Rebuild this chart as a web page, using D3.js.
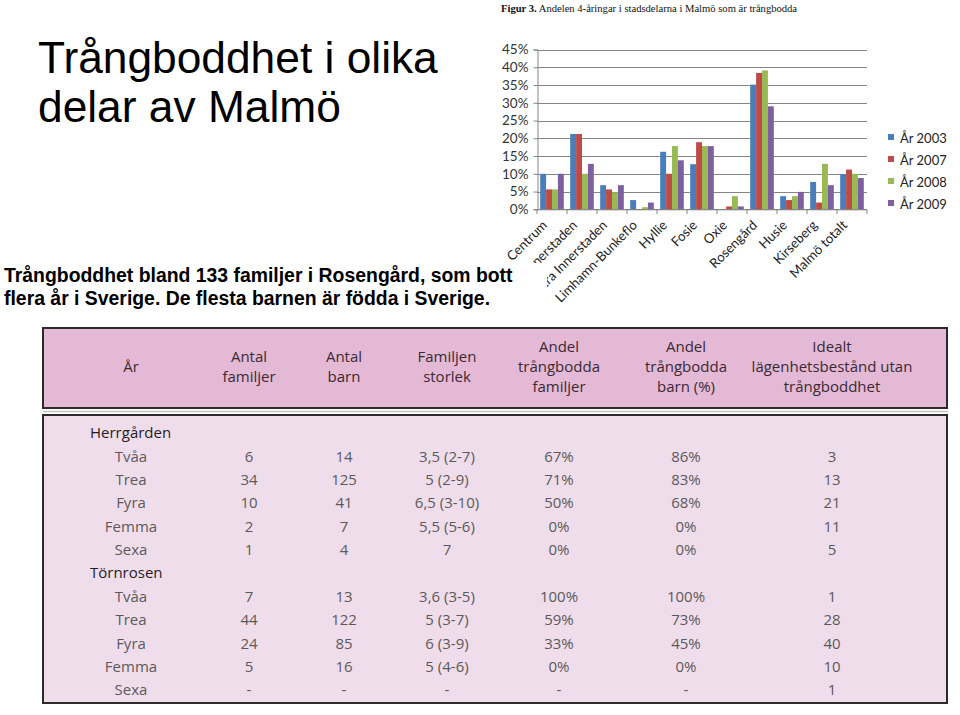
<!DOCTYPE html>
<html><head><meta charset="utf-8">
<script src="https://cdn.jsdelivr.net/npm/d3@7"></script>
<style>body{margin:0;background:#fff}svg{display:block}</style>
</head><body>
<svg id="c" width="960" height="715"></svg>
<script>
// ---------- chart data ----------
const categories = ["Centrum","Södra Innerstaden","Västra Innerstaden","Limhamn-Bunkeflo","Hyllie","Fosie","Oxie","Rosengård","Husie","Kirseberg","Malmö totalt"];
const years = ["År 2003","År 2007","År 2008","År 2009"];
const v2003 = [10,21.2,6.8,2.6,16.2,12.7,0,35.1,3.7,7.7,9.9];
const v2007 = [5.6,21.2,5.6,0,10,18.9,0.8,38.4,2.6,1.9,11.2];
const v2008 = [5.6,10,4.8,0.6,17.8,17.8,3.7,39.1,3.7,12.8,10];
const v2009 = [10,12.8,6.8,1.9,13.8,17.8,0.8,29,4.9,6.8,8.8];
const yTicks = [0,5,10,15,20,25,30,35,40,45];
const seriesColors = ["#4A7EBB","#BE4B48","#98B954","#7D60A0"];

// ---------- table data ----------
const tableHeaders = [["År"],["Antal","familjer"],["Antal","barn"],["Familjen","storlek"],["Andel","trångbodda","familjer"],["Andel","trångbodda","barn (%)"],["Idealt","lägenhetsbestånd utan","trångboddhet"]];
const districts = ["Herrgården","Törnrosen"];
const aptTypes = ["Tvåa","Trea","Fyra","Femma","Sexa"];
const antalFamiljer = [["6","34","10","2","1"],["7","44","24","5","-"]];
const antalBarn = [["14","125","41","7","4"],["13","122","85","16","-"]];
const familjStorlek = [["3,5 (2-7)","5 (2-9)","6,5 (3-10)","5,5 (5-6)","7"],["3,6 (3-5)","5 (3-7)","6 (3-9)","5 (4-6)","-"]];
const andelFamiljer = [["67%","71%","50%","0%","0%"],["100%","59%","33%","0%","-"]];
const andelBarn = [["86%","83%","68%","0%","0%"],["100%","73%","45%","0%","-"]];
const idealt = [["3","13","21","11","5"],["1","28","40","10","1"]];

const svg = d3.select("#c");

// ---------- titles ----------
const t = svg.append("text").attr("x",39).attr("y",73)
  .style("font-family","'Liberation Sans', Arial, sans-serif").style("font-size","44.3px").attr("fill","#000");
t.append("tspan").attr("x",38).attr("y",73).text("Trångboddhet i olika");
t.append("tspan").attr("x",38).attr("y",122).text("delar av Malmö");

// ---------- bar chart ----------
const figT = svg.append("text").attr("x",501).attr("y",12)
  .style("font-family","'Liberation Serif', 'Times New Roman', serif").style("font-size","10.6px").attr("fill","#111");
figT.append("tspan").attr("font-weight","bold").text("Figur 3.");
figT.append("tspan").text(" Andelen 4-åringar i stadsdelarna i Malmö som är trångbodda");

const x0 = d3.scaleBand(categories,[537,867]).padding(0);
const x1 = d3.scaleBand(years,[0,x0.bandwidth()]).paddingInner(0).paddingOuter(0.54);
const y = d3.scaleLinear([0,45],[209.3,49.5]);
const values = [v2003,v2007,v2008,v2009];

const g = svg.append("g");
g.selectAll("line.grid").data(yTicks).join("line")
  .attr("x1",537).attr("x2",867).attr("y1",d=>Math.round(y(d))+0.5).attr("y2",d=>Math.round(y(d))+0.5)
  .attr("stroke","#858585").attr("stroke-width",1);
years.forEach((yr,si)=>{
  g.selectAll(null).data(categories).join("rect")
    .attr("x",(c)=>x0(c)+x1(yr))
    .attr("width",x1.bandwidth())
    .attr("y",(c,i)=>y(values[si][i]))
    .attr("height",(c,i)=>y(0)-y(values[si][i]))
    .attr("fill",seriesColors[si]);
});
const yAxis = d3.axisLeft(y).tickValues(yTicks).tickFormat(d=>d+"%").tickSize(4).tickPadding(5);
const ya = svg.append("g").attr("transform","translate(537.5,0)").call(yAxis);
ya.select(".domain").attr("stroke","#858585");
ya.selectAll(".tick line").attr("stroke","#858585");
ya.selectAll("text").style("font-family","Lato, sans-serif").style("font-size","13.5px").attr("fill","#333");
svg.append("line").attr("x1",537).attr("x2",867).attr("y1",209.8).attr("y2",209.8).attr("stroke","#858585");
const bounds = categories.map(c=>x0(c)).concat([x0.range()[1]]);
svg.selectAll("line.xt").data(bounds).join("line")
  .attr("x1",d=>d).attr("x2",d=>d).attr("y1",209.8).attr("y2",214).attr("stroke","#858585");
svg.selectAll("text.xl").data(categories).join("text")
  .attr("transform",c=>`translate(${x0(c)+x0.bandwidth()/2-4},${226}) rotate(-45)`)
  .attr("text-anchor","end")
  .style("font-family","Lato, sans-serif").style("font-size","13.2px").attr("fill","#222")
  .text(c=>c);
const lg = svg.append("g");
years.forEach((yr,i)=>{
  const ly = 138 + i*22;
  lg.append("rect").attr("x",888).attr("y",ly-4).attr("width",6).attr("height",6).attr("fill",seriesColors[i]);
  lg.append("text").attr("x",900).attr("y",ly).attr("dy","0.35em")
    .style("font-family","Lato, sans-serif").style("font-size","13px").attr("fill","#222").text(yr);
});

// ---------- subtitle with white box covering ----------
svg.append("rect").attr("x",0).attr("y",263).attr("width",547).attr("height",55).attr("fill","#fff");
const st = svg.append("text").style("font-family","'Liberation Sans', Arial, sans-serif")
  .style("font-size","19.4px").style("font-weight","bold").attr("fill","#000");
st.append("tspan").attr("x",4).attr("y",282).text("Trångboddhet bland 133 familjer i Rosengård, som bott");
st.append("tspan").attr("x",4).attr("y",305).text("flera år i Sverige. De flesta barnen är födda i Sverige.");

// ---------- table ----------
const colKeys = ["ar","fam","barn","stor","andF","andB","ideal"];
const colX = d3.scaleOrdinal(colKeys,[131,249,344,447,559,686,832]);
svg.append("rect").attr("x",43).attr("y",328).attr("width",904).attr("height",80)
  .attr("fill","#E4B9D5").attr("stroke","#2b2b2b").attr("stroke-width",2);
svg.append("line").attr("x1",43).attr("x2",948).attr("y1",411.5).attr("y2",411.5).attr("stroke","#c4c4c4").attr("stroke-width",1.5);
svg.append("rect").attr("x",43).attr("y",415).attr("width",904).attr("height",288)
  .attr("fill","#F0DDEB").attr("stroke","#2b2b2b").attr("stroke-width",2);

const headG = svg.append("g").style("font-family","'Open Sans', sans-serif").style("font-size","15px").attr("fill","#3a2a34");
tableHeaders.forEach((lines,ci)=>{
  const txt = headG.append("text").attr("text-anchor","middle");
  lines.forEach((ln,li)=>{
    txt.append("tspan").attr("x",colX(colKeys[ci])).attr("y",367-(lines.length-1)*10+li*20).attr("dy","0.35em").text(ln);
  });
});

const rowY = d3.scaleLinear([0,11],[433,690]);
const bodyG = svg.append("g").style("font-family","'Open Sans', sans-serif").style("font-size","15px");
const cols = [antalFamiljer,antalBarn,familjStorlek,andelFamiljer,andelBarn,idealt];
districts.forEach((dName,di)=>{
  const base = di*6;
  bodyG.append("text").attr("x",90).attr("y",rowY(base)).attr("dy","0.35em").attr("fill","#1e1e1e").text(dName);
  aptTypes.forEach((apt,ai)=>{
    const ry = rowY(base+1+ai);
    bodyG.append("text").attr("x",colX("ar")).attr("y",ry).attr("dy","0.35em").attr("text-anchor","middle").attr("fill","#5a5a5a").text(apt);
    cols.forEach((arr,ci)=>{
      bodyG.append("text").attr("x",colX(colKeys[ci+1])).attr("y",ry).attr("dy","0.35em")
        .attr("text-anchor","middle").attr("fill","#5a5a5a").text(arr[di][ai]);
    });
  });
});
</script>
</body></html>
